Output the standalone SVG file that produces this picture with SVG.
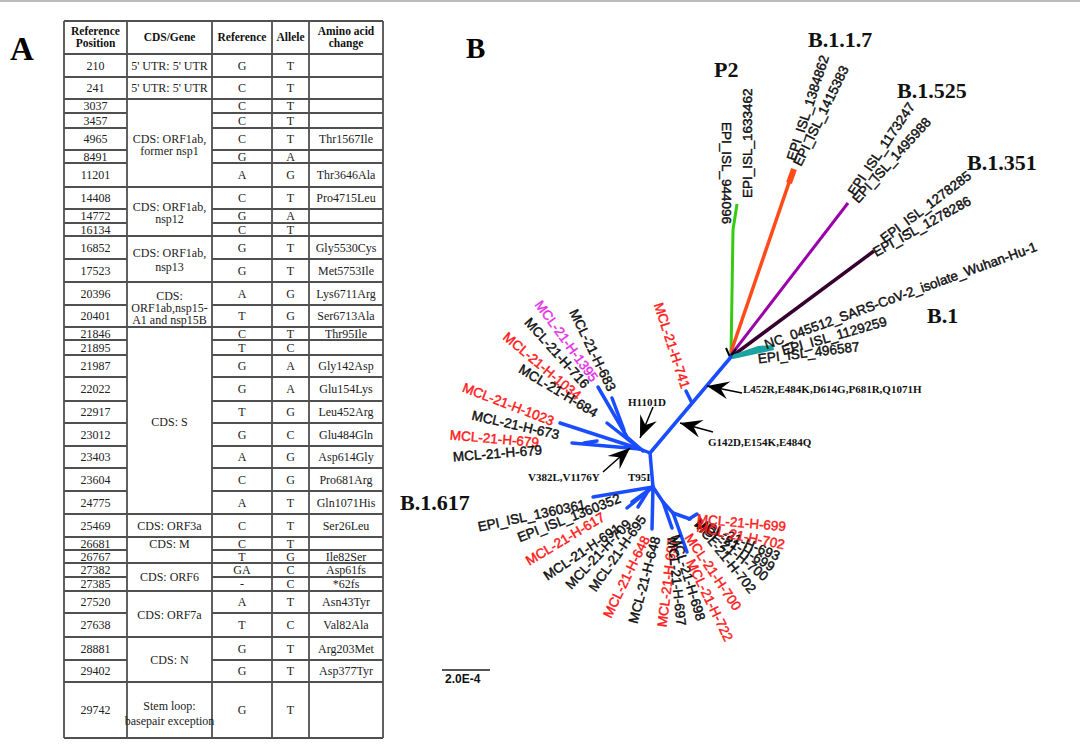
<svg xmlns="http://www.w3.org/2000/svg" width="1080" height="753" viewBox="0 0 1080 753">
<style>
.tl{stroke:#505050;stroke-width:1.8;fill:none}
.tt{font-family:"Liberation Serif","Times New Roman",serif;font-size:12px;fill:#222;text-anchor:middle}
.th{font-family:"Liberation Serif","Times New Roman",serif;font-size:11.5px;font-weight:bold;fill:#111;text-anchor:middle}
.pl{font-family:"Liberation Serif","Times New Roman",serif;font-weight:bold;fill:#000}
.cl{font-family:"Liberation Serif","Times New Roman",serif;font-weight:bold;font-size:22px;fill:#111}
.mu{font-family:"Liberation Serif","Times New Roman",serif;font-weight:bold;font-size:11px;fill:#111}
.lf{font-family:"Liberation Sans",Arial,sans-serif;font-size:13.5px;dominant-baseline:central;stroke-width:0.45}
.k{fill:#111;stroke:#111}
.r{fill:#ff1a1a;stroke:#ff1a1a}
.m{fill:#e62ee6;stroke:#e62ee6}
.bl{stroke:#1a4dff;stroke-width:3.5;fill:none;stroke-linecap:round;stroke-linejoin:round}
.ar{stroke:#000;stroke-width:1.5;fill:none}
</style>
<defs>
<marker id="ah" viewBox="-23 -9 24 18" refX="0" refY="0" markerWidth="24" markerHeight="18" orient="auto" markerUnits="userSpaceOnUse">
<path d="M0,0 L-22,-9 L-14,0 L-22,9 Z" fill="#000"/>
</marker>
</defs>
<rect width="1080" height="753" fill="#fff"/>
<line x1="0" y1="1" x2="1080" y2="1" stroke="#bbb" stroke-width="2"/>

<text class="pl" x="10" y="60" font-size="33">A</text>
<text class="pl" x="466" y="58" font-size="29">B</text>

<g id="table">
<g class="tl">
<path d="M64,21V738M127,21V738M212,21V738M272,21V738M309,21V738M383,21V738"/>
<path d="M64,21H383M64,54H383M64,77H383M64,99H383M64,187H383M64,236H383M64,282H383M64,327H383M64,514H383M64,537H383M64,563H383M64,591H383M64,637H383M64,682H383M64,738H383"/>
<path d="M64,113H127M212,113H383M64,128H127M212,128H383M64,150H127M212,150H383M64,163H127M212,163H383M64,209H127M212,209H383M64,223H127M212,223H383M64,259H127M212,259H383M64,305H127M212,305H383M64,340H127M212,340H383M64,355H127M212,355H383M64,377H127M212,377H383M64,401H127M212,401H383M64,423H127M212,423H383M64,446H127M212,446H383M64,468H127M212,468H383M64,491H127M212,491H383M64,550H127M212,550H383M64,577H127M212,577H383M64,613H127M212,613H383M64,660H127M212,660H383"/>
</g>
<text class="th" x="95.5" y="35">Reference</text>
<text class="th" x="95.5" y="47">Position</text>
<text class="th" x="169.5" y="41">CDS/Gene</text>
<text class="th" x="242" y="41">Reference</text>
<text class="th" x="290.5" y="41">Allele</text>
<text class="th" x="346" y="35">Amino acid</text>
<text class="th" x="346" y="47">change</text>

<g class="tt">
<text x="95.5" y="69.5">210</text><text x="242" y="69.5">G</text><text x="290.5" y="69.5">T</text>
<text x="95.5" y="92">241</text><text x="242" y="92">C</text><text x="290.5" y="92">T</text>
<text x="95.5" y="110">3037</text><text x="242" y="110">C</text><text x="290.5" y="110">T</text>
<text x="95.5" y="124.5">3457</text><text x="242" y="124.5">C</text><text x="290.5" y="124.5">T</text>
<text x="95.5" y="143">4965</text><text x="242" y="143">C</text><text x="290.5" y="143">T</text><text x="346" y="143">Thr1567Ile</text>
<text x="95.5" y="160.5">8491</text><text x="242" y="160.5">G</text><text x="290.5" y="160.5">A</text>
<text x="95.5" y="179">11201</text><text x="242" y="179">A</text><text x="290.5" y="179">G</text><text x="346" y="179">Thr3646Ala</text>
<text x="95.5" y="202">14408</text><text x="242" y="202">C</text><text x="290.5" y="202">T</text><text x="346" y="202">Pro4715Leu</text>
<text x="95.5" y="220">14772</text><text x="242" y="220">G</text><text x="290.5" y="220">A</text>
<text x="95.5" y="233.5">16134</text><text x="242" y="233.5">C</text><text x="290.5" y="233.5">T</text>
<text x="95.5" y="251.5">16852</text><text x="242" y="251.5">G</text><text x="290.5" y="251.5">T</text><text x="346" y="251.5">Gly5530Cys</text>
<text x="95.5" y="274.5">17523</text><text x="242" y="274.5">G</text><text x="290.5" y="274.5">T</text><text x="346" y="274.5">Met5753Ile</text>
<text x="95.5" y="297.5">20396</text><text x="242" y="297.5">A</text><text x="290.5" y="297.5">G</text><text x="346" y="297.5">Lys6711Arg</text>
<text x="95.5" y="320">20401</text><text x="242" y="320">T</text><text x="290.5" y="320">G</text><text x="346" y="320">Ser6713Ala</text>
<text x="95.5" y="337.5">21846</text><text x="242" y="337.5">C</text><text x="290.5" y="337.5">T</text><text x="346" y="337.5">Thr95Ile</text>
<text x="95.5" y="351.5">21895</text><text x="242" y="351.5">T</text><text x="290.5" y="351.5">C</text>
<text x="95.5" y="370">21987</text><text x="242" y="370">G</text><text x="290.5" y="370">A</text><text x="346" y="370">Gly142Asp</text>
<text x="95.5" y="393">22022</text><text x="242" y="393">G</text><text x="290.5" y="393">A</text><text x="346" y="393">Glu154Lys</text>
<text x="95.5" y="416">22917</text><text x="242" y="416">T</text><text x="290.5" y="416">G</text><text x="346" y="416">Leu452Arg</text>
<text x="95.5" y="438.5">23012</text><text x="242" y="438.5">G</text><text x="290.5" y="438.5">C</text><text x="346" y="438.5">Glu484Gln</text>
<text x="95.5" y="461">23403</text><text x="242" y="461">A</text><text x="290.5" y="461">G</text><text x="346" y="461">Asp614Gly</text>
<text x="95.5" y="483.5">23604</text><text x="242" y="483.5">C</text><text x="290.5" y="483.5">G</text><text x="346" y="483.5">Pro681Arg</text>
<text x="95.5" y="506.5">24775</text><text x="242" y="506.5">A</text><text x="290.5" y="506.5">T</text><text x="346" y="506.5">Gln1071His</text>
<text x="95.5" y="529.5">25469</text><text x="242" y="529.5">C</text><text x="290.5" y="529.5">T</text><text x="346" y="529.5">Ser26Leu</text>
<text x="95.5" y="547.5">26681</text><text x="242" y="547.5">C</text><text x="290.5" y="547.5">T</text>
<text x="95.5" y="560.5">26767</text><text x="242" y="560.5">T</text><text x="290.5" y="560.5">G</text><text x="346" y="560.5">Ile82Ser</text>
<text x="95.5" y="574">27382</text><text x="242" y="574">GA</text><text x="290.5" y="574">C</text><text x="346" y="574">Asp61fs</text>
<text x="95.5" y="588">27385</text><text x="242" y="588">-</text><text x="290.5" y="588">C</text><text x="346" y="588">*62fs</text>
<text x="95.5" y="606">27520</text><text x="242" y="606">A</text><text x="290.5" y="606">T</text><text x="346" y="606">Asn43Tyr</text>
<text x="95.5" y="629">27638</text><text x="242" y="629">T</text><text x="290.5" y="629">C</text><text x="346" y="629">Val82Ala</text>
<text x="95.5" y="652.5">28881</text><text x="242" y="652.5">G</text><text x="290.5" y="652.5">T</text><text x="346" y="652.5">Arg203Met</text>
<text x="95.5" y="675">29402</text><text x="242" y="675">G</text><text x="290.5" y="675">T</text><text x="346" y="675">Asp377Tyr</text>
<text x="95.5" y="714">29742</text><text x="242" y="714">G</text><text x="290.5" y="714">T</text>

<text x="169.5" y="69.5">5' UTR: 5' UTR</text>
<text x="169.5" y="92">5' UTR: 5' UTR</text>
<text x="169.5" y="143">CDS: ORF1ab,</text><text x="169.5" y="155">former nsp1</text>
<text x="169.5" y="211">CDS: ORF1ab,</text><text x="169.5" y="223">nsp12</text>
<text x="169.5" y="257">CDS: ORF1ab,</text><text x="169.5" y="271">nsp13</text>
<text x="169.5" y="300">CDS:</text><text x="169.5" y="312">ORF1ab,nsp15-</text><text x="169.5" y="324">A1 and nsp15B</text>
<text x="169.5" y="426">CDS: S</text>
<text x="169.5" y="529.5">CDS: ORF3a</text>
<text x="169.5" y="548">CDS: M</text>
<text x="169.5" y="581">CDS: ORF6</text>
<text x="169.5" y="619">CDS: ORF7a</text>
<text x="169.5" y="664">CDS: N</text>
<text x="169.5" y="710">Stem loop:</text><text x="169.5" y="725">basepair exception</text>
</g>
</g>

<g id="connectors">
<path d="M731,356 L733,230 L737,204" stroke="#33cc11" stroke-width="3" fill="none"/>
<path d="M731,352 L793,171" stroke="#ff4a1a" stroke-width="3.5" fill="none"/>
<path d="M789,183 L794,169" stroke="#ff4a1a" stroke-width="6" fill="none"/>
<path d="M731,355 L848,203" stroke="#9a00aa" stroke-width="3" fill="none"/>
<path d="M731,357 L874,251" stroke="#35002d" stroke-width="3.5" fill="none"/>
<path d="M729,356 L758,346 L773,345 L774,350 L733,359 Z" fill="#1aa3a3"/>
<path d="M726,348 L730,357 L736,349" stroke="#000" stroke-width="2" fill="none"/>
<g class="bl">
<path d="M731,357 L650,453"/>
<path d="M692,403 L686,391"/>
<path d="M650,453 L640,449 L572,443"/>
<path d="M584,443 L597,441"/>
<path d="M640,449 L560,423"/>
<path d="M640,449 L607,423"/>
<path d="M643,451 L627,437 L598,387"/>
<path d="M624,430 L612,398"/>
<path d="M650,453 L653,487"/>
<path d="M653,487 L593,497"/>
<path d="M653,487 L632,502"/>
<path d="M653,487 L627,508"/>
<path d="M648,491 L638,507"/>
<path d="M653,487 L652,529"/>
<path d="M653,487 L663,502 L673,513 L690,519"/>
<path d="M663,502 L672,528"/>
<path d="M673,513 L687,552"/>
<path d="M689,519 L697,514"/>
</g>
<g class="ar">
<line x1="742" y1="393" x2="707" y2="386" marker-end="url(#ah)"/>
<line x1="713" y1="432" x2="680" y2="423" marker-end="url(#ah)"/>
<line x1="653" y1="407" x2="640" y2="438" marker-end="url(#ah)"/>
<line x1="603" y1="472" x2="630" y2="448" marker-end="url(#ah)"/>
</g>
<line x1="442" y1="670" x2="490" y2="670" stroke="#555" stroke-width="2"/>
</g>

<g id="scalebar"><text x="445" y="683" font-family="Liberation Sans,Arial,sans-serif" font-size="12" font-weight="bold" fill="#111">2.0E-4</text></g>

<g id="clade-labels">
<text class="cl" x="714" y="77">P2</text>
<text class="cl" x="808" y="47">B.1.1.7</text>
<text class="cl" x="897" y="98">B.1.525</text>
<text class="cl" x="967" y="170">B.1.351</text>
<text class="cl" x="927" y="323">B.1</text>
<text class="cl" x="400" y="510" font-size="23">B.1.617</text>
</g>

<g id="mutations">
<text class="mu" x="743" y="393">L452R,E484K,D614G,P681R,Q1071H</text>
<text class="mu" x="708" y="446">G142D,E154K,E484Q</text>
<text class="mu" x="628" y="406">H1101D</text>
<text class="mu" x="528" y="481">V382L,V1176Y</text>
<text class="mu" x="628" y="481">T95I</text>
</g>

<g id="leaves">
<g id="n1633462"><text class="lf k" transform="translate(747,198) rotate(-90)">EPI_ISL_1633462</text></g>
<g id="n944096"><text class="lf k" transform="translate(726,122) rotate(90)">EPI_ISL_944096</text></g>
<g id="n1384862"><text class="lf k" transform="translate(791,160) rotate(-72)">EPI_ISL_1384862</text></g>
<g id="n1415383"><text class="lf k" transform="translate(797,165) rotate(-64)">EPI_ISL_1415383</text></g>
<g id="n1173247"><text class="lf k" transform="translate(851,194) rotate(-56)">EPI_ISL_1173247</text></g>
<g id="n1495988"><text class="lf k" transform="translate(855,201) rotate(-48)">EPI_ISL_1495988</text></g>
<g id="n1278285"><text class="lf k" transform="translate(882,240) rotate(-37)">EPI_ISL_1278285</text></g>
<g id="n1278286"><text class="lf k" transform="translate(874,253) rotate(-29)">EPI_ISL_1278286</text></g>
<g id="nWuhan"><text class="lf k" font-size="14.5" transform="translate(765,345) rotate(-20)">NC_045512_SARS-CoV-2_isolate_Wuhan-Hu-1</text></g>
<g id="n1129259"><text class="lf k" transform="translate(782,351) rotate(-16)">EPI_ISL_1129259</text></g>
<g id="n496587"><text class="lf k" transform="translate(758,359) rotate(-7)">EPI_ISL_496587</text></g>
<g id="n741"><text class="lf r" transform="translate(658,303) rotate(72)">MCL-21-H-741</text></g>
<g id="n1395"><text class="lf m" transform="translate(538,302) rotate(54)">MCL-21-H-1395</text></g>
<g id="n683"><text class="lf k" transform="translate(573,310) rotate(64)">MCL-21-H-683</text></g>
<g id="n716"><text class="lf k" transform="translate(527,320) rotate(48)">MCL-21-H-716</text></g>
<g id="n1034"><text class="lf r" transform="translate(505,335) rotate(40)">MCL-21-H-1034</text></g>
<g id="n684"><text class="lf k" transform="translate(520,368) rotate(31)">MCL-21-H-684</text></g>
<g id="n1023"><text class="lf r" transform="translate(463,387) rotate(21)">MCL-21-H-1023</text></g>
<g id="n673"><text class="lf k" transform="translate(472,415) rotate(13)">MCL-21-H-673</text></g>
<g id="n679r"><text class="lf r" transform="translate(450,435) rotate(5)">MCL-21-H-679</text></g>
<g id="n679k"><text class="lf k" transform="translate(453,457) rotate(-4.5)">MCL-21-H-679</text></g>
<g id="n1360361"><text class="lf k" transform="translate(478,527) rotate(-12)">EPI_ISL_1360361</text></g>
<g id="n1360352"><text class="lf k" transform="translate(518,538) rotate(-21.5)">EPI_ISL_1360352</text></g>
<g id="n617"><text class="lf r" transform="translate(527,562) rotate(-31)">MCL-21-H-617</text></g>
<g id="n691"><text class="lf k" transform="translate(545,577) rotate(-34)">MCL-21-H-691</text></g>
<g id="n709"><text class="lf k" transform="translate(568,587) rotate(-47)">MCL-21-H-709</text></g>
<g id="n695"><text class="lf k" transform="translate(592,590) rotate(-55)">MCL-21-H-695</text></g>
<g id="n648r"><text class="lf r" transform="translate(607,617) rotate(-64)">MCL-21-H-648</text></g>
<g id="n648k"><text class="lf k" transform="translate(633,623) rotate(-75)">MCL-21-H-648</text></g>
<g id="n697r"><text class="lf r" transform="translate(662,627) rotate(-83)">MCL-21-H-697</text></g>
<g id="n697k"><text class="lf k" transform="translate(672,537) rotate(84)">MCL-21-H-697</text></g>
<g id="n698"><text class="lf k" transform="translate(675,535) rotate(73)">MCL-21-H-698</text></g>
<g id="n700r"><text class="lf r" transform="translate(688,535) rotate(56)">MCL-21-H-700</text></g>
<g id="n722"><text class="lf r" transform="translate(690,560) rotate(64)">MCL-21-H-722</text></g>
<g id="n693"><text class="lf k" transform="translate(697,522) rotate(23)">MCL-21-H-693</text></g>
<g id="n699k"><text class="lf k" transform="translate(697,522) rotate(31)">MCL-21-H-699</text></g>
<g id="n700k"><text class="lf k" transform="translate(697,522) rotate(39)">MCL-21-H-700</text></g>
<g id="n702k"><text class="lf k" transform="translate(697,522) rotate(51)">MCL-21-H-702</text></g>
<g id="n699r"><text class="lf r" transform="translate(697,519) rotate(5)">MCL-21-H-699</text></g>
<g id="n702r"><text class="lf r" transform="translate(697,527) rotate(11.5)">MCL-21-H-702</text></g>
</g>
</svg>
